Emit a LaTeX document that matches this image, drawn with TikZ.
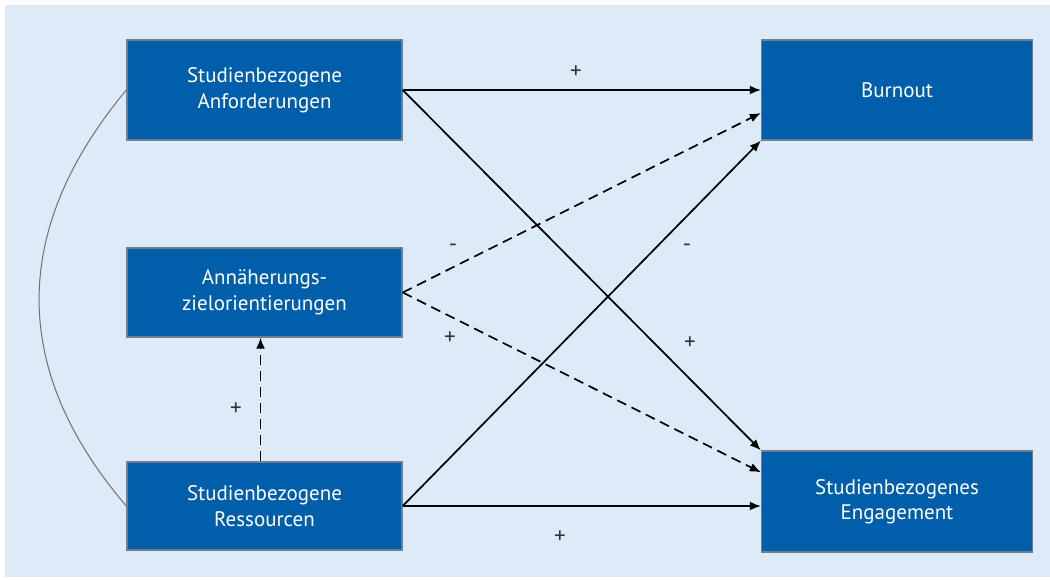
\documentclass[tikz,border=0pt]{standalone}
\usepackage{fontspec}
\setmainfont{PT Sans}
\usetikzlibrary{arrows.meta}
\definecolor{bgblue}{HTML}{DDEAF7}
\definecolor{boxblue}{HTML}{005EAB}
\definecolor{boxedge}{HTML}{6F7E90}
\definecolor{arcgray}{HTML}{707070}
\begin{document}
\begin{tikzpicture}[x=1pt,y=-1pt,
  box/.style={draw=boxedge, line width=1.4pt, fill=boxblue, text=white, align=center,
    font=\fontsize{21}{25.5}\selectfont, inner sep=0pt},
  conn/.style={line width=1.7pt, -{Latex[length=11pt,width=9pt]}},
  dconn/.style={conn, dash pattern=on 10pt off 6pt},
  lab/.style={font=\fontsize{23}{24}\selectfont, text=black!80}]
\useasboundingbox (0,0) rectangle (1050,579);
\fill[white] (0,0) rectangle (1050,579);
\fill[bgblue] (5,5) rectangle (1050,577);
\node[box, minimum width=275pt, minimum height=100pt] (anf) at (264.5,90) {Studienbezogene\\Anforderungen};
\node[box, minimum width=275pt, minimum height=89pt] (ann) at (264.5,292.5) {Annäherungs-\\zielorientierungen};
\node[box, minimum width=275pt, minimum height=88pt] (res) at (264.5,506) {Studienbezogene\\Ressourcen};
\node[box, minimum width=271pt, minimum height=100pt] (bur) at (897,90) {Burnout};
\node[box, minimum width=271pt, minimum height=101pt] (eng) at (897,501.5) {Studienbezogenes\\Engagement};
\coordinate (engR) at (eng.west |- res.east);
\draw[conn] (anf.east) -- (bur.west);
\draw[conn] (anf.east) -- (eng.north west);
\draw[dconn] (ann.east) -- ([yshift=-23pt]bur.west);
\draw[dconn] (ann.east) -- ([yshift=-22pt]eng.north west);
\draw[conn] (res.east) -- (bur.south west);
\draw[conn] (res.east) -- (engR);
\draw[dconn] ([xshift=-4pt]res.north) -- ([xshift=-4pt]ann.south);
\draw[arcgray, line width=1pt] (anf.west) .. controls (10,230) and (10,370) .. (res.west);
\node[lab] (l1) at (576,72) {+};
\node[lab] (l2) at (453,248) {-};
\node[lab] (l3) at (450,338) {+};
\node[lab] (l4) at (687,248) {-};
\node[lab] (l5) at (690,343) {+};
\node[lab] (l6) at (560,537) {+};
\node[lab] (l7) at (236,409) {+};
\end{tikzpicture}
\end{document}
